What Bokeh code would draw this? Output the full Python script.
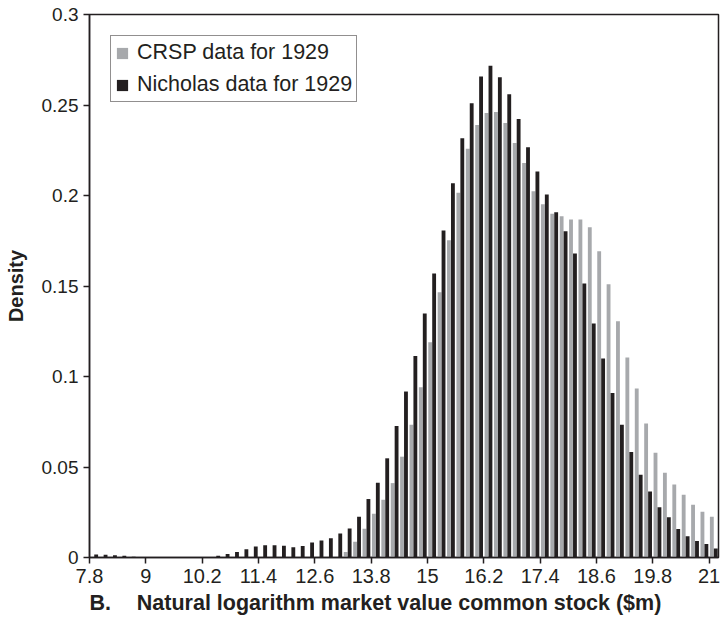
import numpy as np
from bokeh.plotting import figure
from bokeh.models import (Range1d, FixedTicker, Legend, LegendItem, Title,
                          ColumnDataSource, CustomJSTickFormatter)
from bokeh.embed import file_html
from bokeh.resources import INLINE

# ---- data -------------------------------------------------------------
bin_start = [round(7.8 + 0.2 * k, 1) for k in range(67)]   # categories (bin left edges)
x_ticks = [7.8, 9, 10.2, 11.4, 12.6, 13.8, 15, 16.2, 17.4, 18.6, 19.8, 21]
y_ticks = [0, 0.05, 0.1, 0.15, 0.2, 0.25, 0.3]

crsp_1929 = [0.0] * 27 + [
    0.0031, 0.0087, 0.0159, 0.0242, 0.0319, 0.0411, 0.0557, 0.0734, 0.0940,
    0.1189, 0.1466, 0.1753, 0.2015, 0.2258, 0.2389, 0.2456, 0.2461, 0.2400,
    0.2290, 0.2179, 0.2024, 0.1952, 0.1899, 0.1886, 0.1868, 0.1868, 0.1825,
    0.1692, 0.1510, 0.1305, 0.1105, 0.0934, 0.0741, 0.0579, 0.0468, 0.0404,
    0.0347, 0.0292, 0.0253, 0.0225]

nicholas_1929 = [
    0.0017, 0.0015, 0.0013, 0.0009, 0.0004, 0.0, 0.0, 0.0, 0.0, 0.0, 0.0, 0.0,
    0.0, 0.0009, 0.0020, 0.0031, 0.0046, 0.0061, 0.0068, 0.0068, 0.0065,
    0.0057, 0.0063, 0.0083, 0.0094, 0.0107, 0.0133, 0.0160, 0.0225, 0.0323,
    0.0413, 0.0548, 0.0726, 0.0917, 0.1113, 0.1348, 0.1569, 0.1807, 0.2067,
    0.2316, 0.2509, 0.2657, 0.2717, 0.2653, 0.2559, 0.2423, 0.2266, 0.2133,
    0.2006, 0.1908, 0.1803, 0.1680, 0.1514, 0.1293, 0.1099, 0.0909, 0.0734,
    0.0583, 0.0457, 0.0364, 0.0277, 0.0222, 0.0157, 0.0118, 0.0091, 0.0074,
    0.0050]

series_names = ["CRSP data for 1929", "Nicholas data for 1929"]
x_title = "B.\u2003\u2009Natural logarithm market value common stock ($m)"

# ---- styles -----------------------------------------------------------
GRAY = "#a7a9ac"
BLACK = "#231f20"
INK = "#231f20"
BIN = 0.2
BAR_W = 0.082
OFF = 0.042
REG = "'Liberation Sans', Arial, sans-serif"

centers = np.array(bin_start) + BIN / 2
src = ColumnDataSource(dict(xg=centers - OFF, xb=centers + OFF,
                            crsp=crsp_1929, nich=nicholas_1929))

p = figure(width=721, height=626, output_backend="svg", toolbar_location=None,
           x_range=Range1d(7.8, 21.2), y_range=Range1d(0, 0.3),
           min_border_left=89, min_border_right=3, min_border_top=14,
           min_border_bottom=69)
p.background_fill_color = "white"
p.border_fill_color = "white"
p.xgrid.visible = False
p.ygrid.visible = False
p.outline_line_color = INK
p.outline_line_width = 1.5

r1 = p.vbar(x="xg", top="crsp", width=BAR_W, source=src,
            fill_color=GRAY, line_color=None)
r2 = p.vbar(x="xb", top="nich", width=BAR_W, source=src,
            fill_color=BLACK, line_color=None)

# axes
for ax in (p.xaxis[0], p.yaxis[0]):
    ax.axis_line_color = INK
    ax.axis_line_width = 1.5
    ax.major_tick_line_color = INK
    ax.major_tick_line_width = 1.5
    ax.major_tick_out = 6
    ax.major_tick_in = 0
    ax.minor_tick_line_color = None
    ax.major_label_text_color = INK

p.xaxis.ticker = FixedTicker(ticks=x_ticks)
p.xaxis.formatter = CustomJSTickFormatter(code="return String(Math.round(tick*10)/10)")
p.xaxis.major_label_text_font = REG
p.xaxis.major_label_text_font_size = "20px"
p.xaxis.major_label_standoff = 5

p.yaxis.ticker = FixedTicker(ticks=y_ticks)
p.yaxis.formatter = CustomJSTickFormatter(code="return String(Math.round(tick*100)/100)")
p.yaxis.major_label_text_font = REG
p.yaxis.major_label_text_font_size = "19px"
p.yaxis.major_label_standoff = 5
p.yaxis.axis_label = "Density"
p.yaxis.axis_label_text_font = REG
p.yaxis.axis_label_text_font_style = "bold"
p.yaxis.axis_label_text_font_size = "20px"
p.yaxis.axis_label_text_color = INK
p.yaxis.axis_label_standoff = 12

# x title below the axis, left-aligned near the frame's left edge
p.add_layout(Title(text=x_title, align="left", offset=0, standoff=7,
                   text_font=REG, text_font_style="bold",
                   text_font_size="21.5px", text_color=INK), "below")

legend = Legend(items=[LegendItem(label=series_names[0], renderers=[r1]),
                       LegendItem(label=series_names[1], renderers=[r2])],
                location="top_left", margin=21, padding=4, spacing=7,
                glyph_width=14, glyph_height=14, label_standoff=8,
                label_height=21,
                label_text_font=REG, label_text_font_size="21.5px",
                label_text_color=INK,
                border_line_color=INK, border_line_width=1,
                background_fill_color="white", background_fill_alpha=1)
p.add_layout(legend)

open("out.html", "w").write(file_html(p, INLINE))
